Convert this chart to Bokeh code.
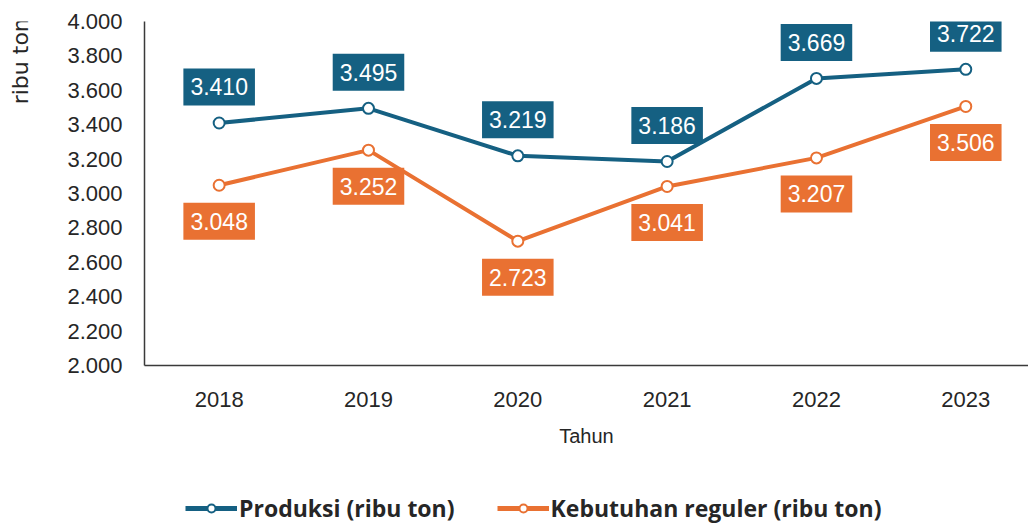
from bokeh.plotting import figure
from bokeh.layouts import column, row
from bokeh.models import (Range1d, FixedTicker, Legend, LegendItem, Label,
                          ColumnDataSource)
from bokeh.embed import file_html
from bokeh.resources import INLINE
from bokeh.core.properties import value

# ---- data ----
years = ["2018", "2019", "2020", "2021", "2022", "2023"]
produksi = [3410, 3495, 3219, 3186, 3669, 3722]
kebutuhan = [3048, 3252, 2723, 3041, 3207, 3506]
y_ticks = [2000, 2200, 2400, 2600, 2800, 3000, 3200, 3400, 3600, 3800, 4000]
y_tick_labels = ["2.000", "2.200", "2.400", "2.600", "2.800", "3.000",
                 "3.200", "3.400", "3.600", "3.800", "4.000"]
series_names = ["Produksi (ribu ton)", "Kebutuhan reguler (ribu ton)"]
y_title = "ribu ton"
x_title = "Tahun"

BLUE = "#156082"
ORANGE = "#E97132"
TXT = "#262626"
FONT = "Liberation Sans"


def fmt(v):
    return f"{v:,}".replace(",", ".")


x_idx = list(range(len(years)))
src_p = ColumnDataSource(dict(x=x_idx, y=produksi, lbl=[fmt(v) for v in produksi]))
src_k = ColumnDataSource(dict(x=x_idx, y=kebutuhan, lbl=[fmt(v) for v in kebutuhan]))

# ---- y-title strip ----
TW, MAIN_H = 40, 476
tf = figure(width=TW, height=MAIN_H, output_backend="svg", toolbar_location=None,
            x_range=Range1d(0, 1), y_range=Range1d(0, 1), min_border=0,
            x_axis_location=None, y_axis_location=None)
tf.outline_line_color = None
tf.grid.visible = False
tf.add_layout(Label(x=0.5, y=1 - 55 / MAIN_H, text=y_title, angle=1.5708,
                    text_align="center", text_baseline="middle",
                    text_font="DejaVu Sans", text_font_size="22px",
                    text_color=TXT))

# ---- main chart ----
p = figure(width=1028 - TW, height=MAIN_H, output_backend="svg",
           toolbar_location=None,
           x_range=Range1d(-0.5, 5.42), y_range=Range1d(2000, 4000),
           min_border_left=144 - TW, min_border_right=0, min_border_top=21,
           min_border_bottom=111)
p.outline_line_color = None
p.grid.visible = False
p.background_fill_color = "white"
p.border_fill_color = "white"

p.xaxis.ticker = FixedTicker(ticks=x_idx)
p.xaxis.major_label_overrides = {i: y for i, y in zip(x_idx, years)}
p.yaxis.ticker = FixedTicker(ticks=y_ticks)
p.yaxis.major_label_overrides = {t: l for t, l in zip(y_ticks, y_tick_labels)}
for ax in (p.xaxis[0], p.yaxis[0]):
    ax.major_tick_line_color = None
    ax.minor_tick_line_color = None
    ax.major_tick_out = 0
    ax.major_tick_in = 0
    ax.axis_line_color = "#3a3a3a"
    ax.axis_line_width = 1.5
    ax.major_label_text_font = FONT
    ax.major_label_text_font_size = "22px"
    ax.major_label_text_color = TXT
p.xaxis.major_label_standoff = 26
p.yaxis.major_label_standoff = 22
p.xaxis.axis_label = x_title
p.xaxis.axis_label_standoff = 15
p.xaxis.axis_label_text_font = FONT
p.xaxis.axis_label_text_font_style = "normal"
p.xaxis.axis_label_text_font_size = "20px"
p.xaxis.axis_label_text_color = TXT

l1 = p.line("x", "y", source=src_p, line_color=BLUE, line_width=4)
p.scatter("x", "y", source=src_p, size=11, fill_color="white",
          line_color=BLUE, line_width=2)
l2 = p.line("x", "y", source=src_k, line_color=ORANGE, line_width=4)
p.scatter("x", "y", source=src_k, size=11, fill_color="white",
          line_color=ORANGE, line_width=2)

pad = dict(left=7, right=7, top=10, bottom=10)
p.text("x", "y", text="lbl", source=src_p, text_color="white",
       text_font=value(FONT), text_font_size="23px", text_align="center",
       text_baseline="middle", y_offset=-36, background_fill_color=BLUE,
       padding=pad)
p.text("x", "y", text="lbl", source=src_k, text_color="white",
       text_font=value(FONT), text_font_size="23px", text_align="center",
       text_baseline="middle", y_offset=36, background_fill_color=ORANGE,
       padding=pad)

# ---- legend strip ----
lf = figure(width=1028, height=50, output_backend="svg", toolbar_location=None,
            x_range=Range1d(100, 101), y_range=Range1d(0, 1), min_border=0,
            x_axis_location=None, y_axis_location=None)
lf.outline_line_color = None
lf.grid.visible = False
lg1 = lf.line("x", "y", source=src_p, line_color=BLUE, line_width=5)
lm1 = lf.scatter("x", "y", source=src_p, size=11, fill_color="white",
                 line_color=BLUE, line_width=2)
lg2 = lf.line("x", "y", source=src_k, line_color=ORANGE, line_width=5)
lm2 = lf.scatter("x", "y", source=src_k, size=11, fill_color="white",
                 line_color=ORANGE, line_width=2)
legend = Legend(items=[LegendItem(label=series_names[0], renderers=[lg1, lm1]),
                       LegendItem(label=series_names[1], renderers=[lg2, lm2])],
                orientation="horizontal", location=(185, 2),
                label_text_font="Open Sans",
                label_text_font_style="bold", label_text_font_size="23px",
                label_text_color=TXT, glyph_width=52, glyph_height=20,
                label_standoff=2, spacing=42, border_line_color=None,
                background_fill_alpha=0, margin=0, padding=0)
lf.add_layout(legend, "center")

layout = column(row(tf, p, spacing=0), lf, spacing=0)
open("out.html", "w").write(file_html(layout, INLINE))
